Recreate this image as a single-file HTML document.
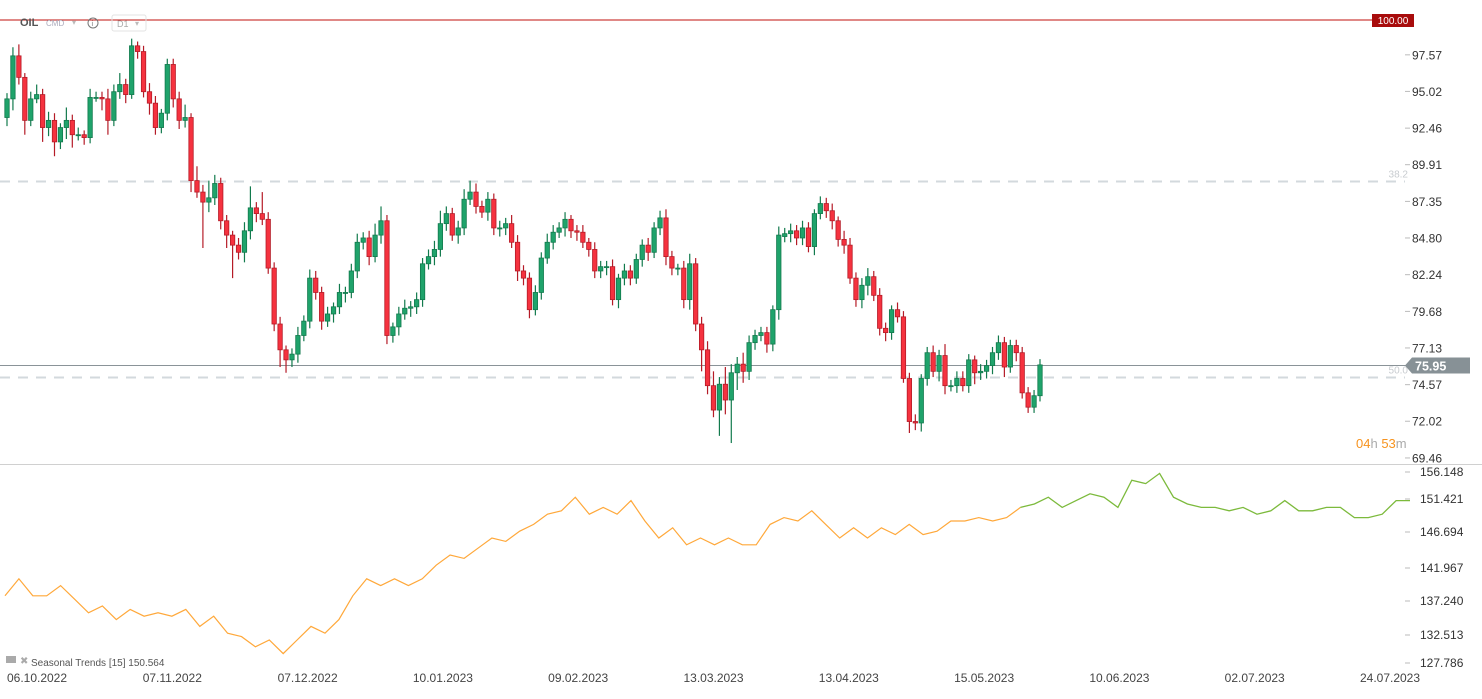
<!DOCTYPE html>
<html><head><meta charset="utf-8"><style>
html,body{margin:0;padding:0;background:#fff;}
body{width:1482px;height:694px;overflow:hidden;font-family:"Liberation Sans",sans-serif;}
svg text{font-family:"Liberation Sans",sans-serif;}
</style></head><body>
<svg id="chart" width="1482" height="694" xmlns="http://www.w3.org/2000/svg">
  <g id="grid"></g>
  <g id="candles"></g>
  <g id="seasonal"></g>
  <g id="axes"></g>
  <g>
    <text x="20" y="26" font-size="11" fill="#555" font-weight="bold">OIL</text>
    <text x="46" y="26" font-size="8" fill="#aab">CMD</text>
    <text x="72" y="25" font-size="8" fill="#bbb">▾</text>
    <circle cx="93" cy="23" r="5" fill="none" stroke="#777" stroke-width="1"/>
    <text x="91.5" y="26" font-size="7" fill="#777">i</text>
    <rect x="112" y="15" width="34" height="16" rx="2" fill="none" stroke="#e3e3e3"/>
    <text x="117" y="27" font-size="9" fill="#aaa">D1</text>
    <text x="135" y="26" font-size="8" fill="#bbb">▾</text>
  </g>
</svg>
<script>
const NS='http://www.w3.org/2000/svg';
// ---- price data (daily) ----
const closes=[94.5,97.5,96,93,94.5,94.8,92.5,93,91.5,92.5,93,92,92,91.8,94.6,94.6,94.5,93,95,95.5,94.8,98.2,97.8,95,94.2,92.5,93.5,96.9,94.5,93,93.2,88.8,88,87.3,87.6,88.6,86,85,84.3,83.8,85.3,86.9,86.5,86.1,82.7,78.8,77,76.3,76.7,78,79,82,81,79,79.5,80,81,81,82.5,84.5,84.8,83.5,85,86,78,78.6,79.5,79.9,80,80.5,83,83.5,84,85.8,86.5,85,85.5,87.5,88,87,86.6,87.5,85.5,85.5,85.8,84.5,82.5,82,79.8,81,83.4,84.5,85.2,85.5,86.1,85.3,85.2,84.5,84,82.5,82.8,82.8,80.5,82,82.5,82,83.3,84.3,83.8,85.5,86.2,83.5,82.7,82.7,80.5,83,78.8,77,74.5,72.8,74.6,73.5,75.4,76,75.5,77.5,78,78.2,77.4,79.8,85,85.1,85.3,84.8,85.5,84.2,86.5,87.2,86.7,86,84.7,84.3,82,80.5,81.5,82.1,80.8,78.5,78.2,79.8,79.3,75,72,71.9,75,76.8,75.5,76.6,74.5,74.5,75,74.5,76.3,75.4,75.5,75.9,76.8,77.5,75.8,77.3,76.8,74,73,73.8,75.95];
const firstOpen=93.2;
const openOverrides={131:84.9};
const wickUp=[0.4,0.6,0.8,0.3,0.5,0.7,0.4,0.6,0.5,0.3,0.9,0.4,0.5,0.3,0.6,0.4,0.4,0.7,0.5,0.8,0.4,0.5,0.3,0.4,0.6,0.5,0.3,0.4,0.4,0.5,0.9,0.3,1.0,0.5,1.2,0.6,0.4,0.4,0.3,0.5,0.6,1.5,0.4,1.5,0.5,0.4,0.5,0.3,0.4,0.6,0.4,0.6,0.5,0.4,0.5,0.3,0.6,0.4,0.5,0.6,0.4,0.5,0.8,1.0,0.4,0.3,0.5,0.6,0.4,0.5,0.4,0.5,0.6,0.9,0.5,0.4,0.5,0.7,0.8,0.6,0.4,0.5,0.4,0.5,0.4,0.6,0.5,0.4,0.4,0.5,0.4,0.6,0.5,0.4,0.5,0.3,0.4,0.5,0.3,0.5,0.4,0.4,0.5,0.3,0.5,0.4,0.4,0.4,0.5,0.4,0.5,0.6,0.4,0.3,0.5,0.7,0.4,0.5,0.6,1.0,0.5,1.2,0.6,0.5,0.8,0.5,0.4,0.4,0.4,0.3,0.6,0.4,0.5,0.4,0.5,0.4,0.3,0.5,0.4,0.5,0.3,0.6,0.5,0.4,0.5,0.6,0.4,0.5,0.4,0.3,0.5,0.4,0.4,0.5,0.3,0.4,0.5,0.4,0.8,0.4,0.5,0.5,0.4,0.3,0.5,0.4,0.4,0.5];
const wickDn=[0.6,0.8,0.5,1.0,0.4,0.3,1.0,0.6,1.0,0.5,0.8,0.9,0.4,0.5,0.4,0.3,0.8,1.0,0.4,0.5,0.6,0.3,0.5,0.4,0.8,0.5,0.4,0.5,0.6,0.6,0.5,0.8,0.4,3.2,0.7,0.5,0.6,0.9,2.3,0.5,0.7,0.6,0.6,0.4,0.4,0.5,1.2,0.9,0.5,0.6,0.4,0.5,0.5,0.6,0.4,0.6,0.5,0.7,0.4,0.5,0.5,0.6,0.4,0.6,0.6,0.5,0.6,0.4,0.6,0.5,0.5,0.4,0.6,0.5,0.5,0.4,0.6,0.5,0.4,0.5,0.4,0.6,0.5,0.6,0.5,0.4,0.7,0.5,0.6,0.4,0.5,0.4,0.5,0.4,0.6,0.5,0.6,0.4,0.5,0.5,0.5,0.6,0.4,0.6,0.5,0.5,0.4,0.5,0.6,0.4,0.5,0.6,0.5,0.5,0.6,0.7,0.5,1.5,0.6,0.5,1.8,1.0,3.0,1.2,0.8,0.6,0.5,0.4,0.6,0.5,0.7,0.4,0.6,0.5,0.5,0.4,0.6,0.4,0.5,0.6,0.5,0.6,0.4,0.5,0.6,0.7,0.4,0.5,0.6,0.5,0.4,0.3,0.8,0.5,0.6,0.5,0.4,0.7,0.6,0.4,0.5,0.4,0.5,0.8,0.5,0.5,0.6,0.5,0.7,0.4,0.6];
const priceTicks=[97.57,95.02,92.46,89.91,87.35,84.80,82.24,79.68,77.13,74.57,72.02,69.46];
const dateLabels=['06.10.2022','07.11.2022','07.12.2022','10.01.2023','09.02.2023','13.03.2023','13.04.2023','15.05.2023','10.06.2023','02.07.2023','24.07.2023'];
const lastPrice=75.95, alertPrice=100.00, fib382=88.8, fib50=75.1;
// ---- seasonal indicator ----
const seasonal=[137.5,140,137.5,137.5,139,137,135,136,134,135.5,134.5,135,134.5,135.5,133,134.5,132,131.5,130,131,129,131,133,132,134,137.5,140,139,140,139,140,142,143.5,143,144.5,146,145.5,147,148,149.5,150,152,149.5,150.5,149.5,151.5,148.5,146,147.5,145,146,145,146,145,145,148,149,148.5,150,148,146,147.5,146,147.5,146.5,148,146.5,147,148.5,148.5,149,148.5,149,150.5,151,152,150.5,151.5,152.5,152,150.5,154.5,154,155.5,152,151,150.5,150.5,150,150.5,149.5,150,151.5,150,150,150.5,150.5,149,149,149.5,151.5,151.5];
const seasonalSplit=73;
const seasonalTicks=['156.148','151.421','146.694','141.967','137.240','132.513','127.786'];

// ---- scales ----
const X0=7, XLAST=1040, CANDLE_W=4.4;
const DX=(XLAST-X0)/(closes.length-1);
const xOf=i=>X0+i*DX;
const yP=p=>20+(100-p)*14.34;
const SX0=5, SX1=1410;
const xS=i=>SX0+i*(SX1-SX0)/(seasonal.length-1);
const yS=v=>469+(156.148-v)*6.8;
const mk=(tag,attrs,parent)=>{const e=document.createElementNS(NS,tag);for(const k in attrs)e.setAttribute(k,attrs[k]);parent.appendChild(e);return e;};

const grid=document.getElementById('grid');
const axes=document.getElementById('axes');
let l=mk('line',{x1:0,y1:464.5,x2:1482,y2:464.5,stroke:'#d0d0d0','stroke-width':1},grid);


[[fib382,'38.2'],[fib50,'50.0']].forEach(([p,t])=>{
  const y=Math.round(yP(p))+0.5;
  const ln=mk('line',{x1:0,y1:y,x2:1405,y2:y,stroke:'#d3d9dd','stroke-width':2,'stroke-dasharray':'10,8'},grid);
  
  
  const tx=mk('text',{x:1408,y:y-4,'font-size':10,fill:'#c8ccd0','text-anchor':'end'},grid);
  tx.textContent=t;
  
  
});
const ay=yP(alertPrice);
l=mk('line',{x1:0,y1:ay,x2:1372,y2:ay,stroke:'#c0100c','stroke-width':1},grid);


let r=mk('rect',{x:1372,y:ay-6,width:42,height:13,fill:'#a80c0c'},axes);


let t=mk('text',{x:1393,y:ay+4,'font-size':10,fill:'#fff','text-anchor':'middle'},axes);
t.textContent=alertPrice.toFixed(2);


const ly=Math.round(yP(lastPrice))+0.5;
l=mk('line',{x1:0,y1:ly,x2:1410,y2:ly,stroke:'#8a9398','stroke-width':1},grid);



const cg=document.getElementById('candles');
closes.forEach((c,i)=>{
  const o=(openOverrides[i]!==undefined)?openOverrides[i]:(i===0?firstOpen:closes[i-1]);
  const up=c>=o;
  const hi=Math.max(o,c)+(wickUp[i]??0.4), lo=Math.min(o,c)-(wickDn[i]??0.4);
  const x=xOf(i);
  const fill=up?'#1fa36b':'#f5323f', st=up?'#127a4d':'#b51b27';
  const g=mk('g',{},cg);
  
  
  mk('line',{x1:x,y1:yP(hi),x2:x,y2:yP(lo),stroke:st,'stroke-width':1.2},g);
  const yt=yP(Math.max(o,c)), yb=yP(Math.min(o,c));
  mk('rect',{x:x-CANDLE_W/2,y:yt,width:CANDLE_W,height:Math.max(1,yb-yt),fill:fill,stroke:st,'stroke-width':0.8},g);
});

const sg=document.getElementById('seasonal');
const pts=(a,b)=>seasonal.slice(a,b).map((v,k)=>xS(a+k).toFixed(1)+','+yS(v).toFixed(1)).join(' ');
let pl=mk('polyline',{points:pts(0,seasonalSplit+1),fill:'none',stroke:'#ffa83a','stroke-width':1.2},sg);


pl=mk('polyline',{points:pts(seasonalSplit,seasonal.length),fill:'none',stroke:'#7cba3c','stroke-width':1.3},sg);



priceTicks.forEach(p=>{
  const y=yP(p);
  const tk=mk('line',{x1:1405,y1:y,x2:1410,y2:y,stroke:'#bbb'},axes);
  
  
  const tx=mk('text',{x:1412,y:y+4.5,'font-size':12,fill:'#333'},axes);
  tx.textContent=p.toFixed(2);
  
  
});
const tag=mk('path',{d:`M1405,${ly} L1412,${ly-8} L1470,${ly-8} L1470,${ly+8} L1412,${ly+8} Z`,fill:'#879196'},axes);


t=mk('text',{x:1415,y:ly+5,'font-size':12.5,fill:'#fff','font-weight':'bold'},axes);
t.textContent=lastPrice.toFixed(2);


t=mk('text',{x:1356,y:448,'font-size':13,fill:'#f7931e'},axes);
t.innerHTML='04<tspan fill="#aaa">h</tspan> 53<tspan fill="#aaa">m</tspan>';



const sLabY=[476,503,536,572,605,639,667];
seasonalTicks.forEach((s,i)=>{
  const tk=mk('line',{x1:1405,y1:sLabY[i]-4,x2:1410,y2:sLabY[i]-4,stroke:'#bbb'},axes);
  
  
  const tx=mk('text',{x:1420,y:sLabY[i],'font-size':12,fill:'#333'},axes);
  tx.textContent=s;
  
  
});
const lg=mk('g',{},axes);


mk('rect',{x:6,y:656,width:10,height:7,fill:'#aaa'},lg);
t=mk('text',{x:20,y:664,'font-size':10,fill:'#aaa'},lg);t.textContent='✖';


t=mk('text',{x:31,y:666,'font-size':10,fill:'#555'},lg);
t.textContent='Seasonal  Trends  [15]  150.564';


dateLabels.forEach((d,i)=>{
  const tx=mk('text',{x:37+i*135.3,y:682,'font-size':12,fill:'#444','text-anchor':'middle'},axes);
  tx.textContent=d;
  
  
});
</script>
</body></html>
